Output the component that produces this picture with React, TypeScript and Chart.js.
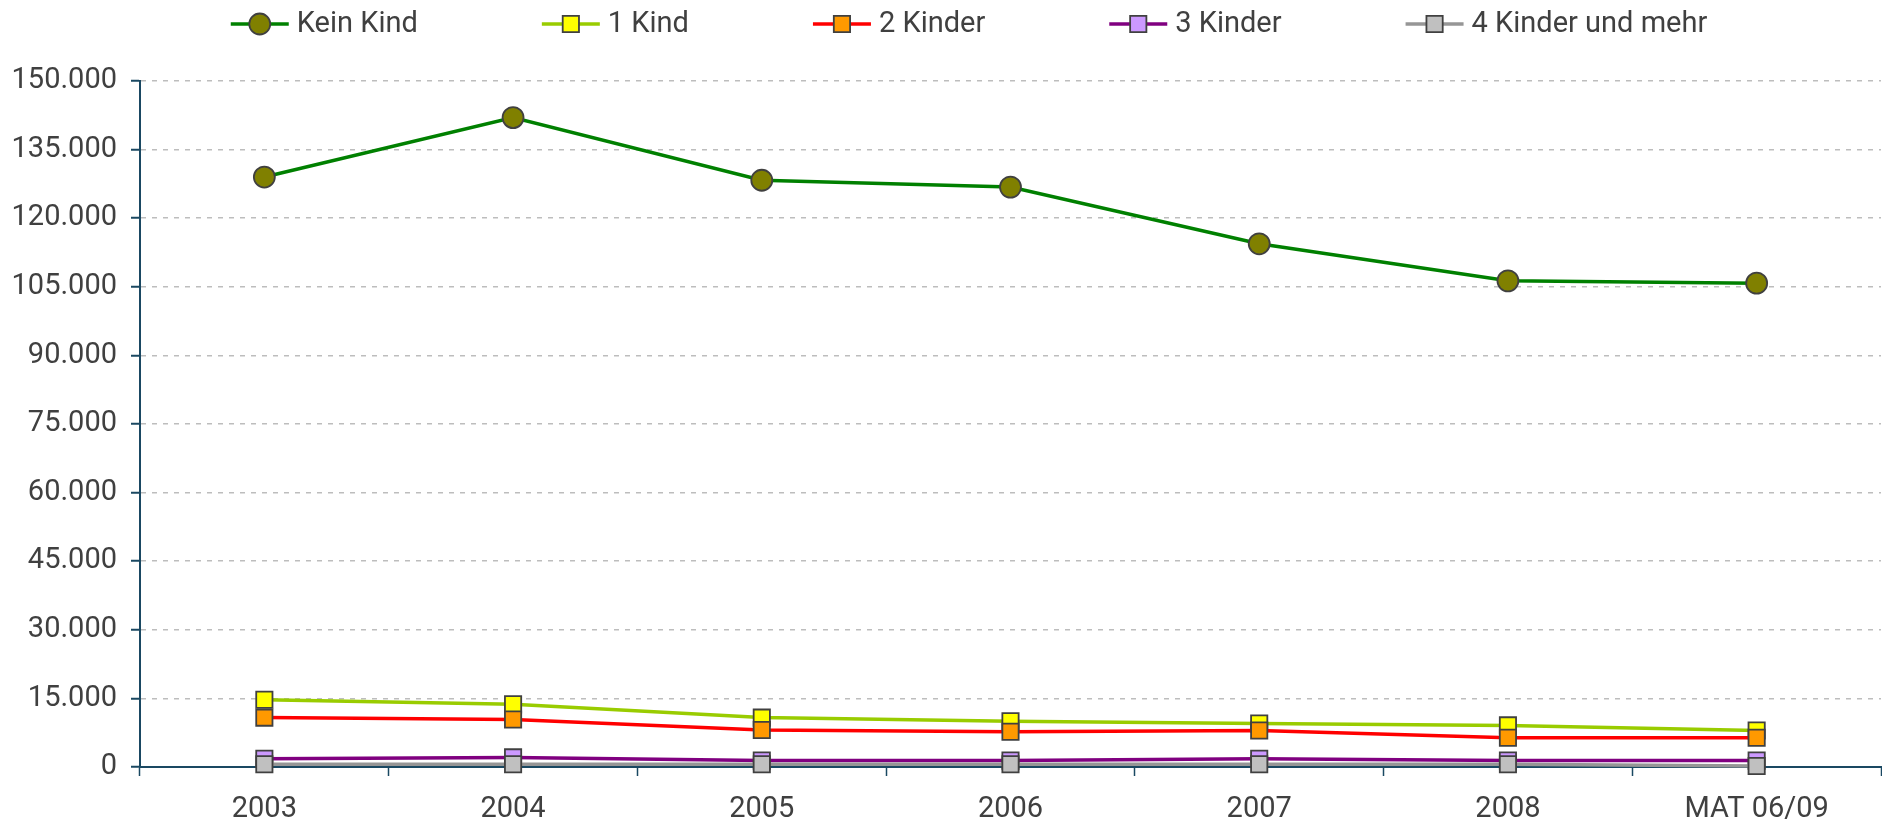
import React, { useEffect, useRef } from 'react';
import { Chart, registerables } from 'chart.js';

Chart.register(...registerables);

const categories = ['2003', '2004', '2005', '2006', '2007', '2008', 'MAT 06/09'];
const seriesNames = ['Kein Kind', '1 Kind', '2 Kinder', '3 Kinder', '4 Kinder und mehr'];
const keinKind = [129000, 142000, 128300, 126800, 114400, 106300, 105800];
const einKind = [14700, 13700, 10800, 10000, 9500, 9100, 8000];
const zweiKinder = [10800, 10400, 8100, 7700, 8000, 6400, 6400];
const dreiKinder = [1800, 2100, 1400, 1400, 1800, 1400, 1400];
const vierKinder = [600, 600, 600, 600, 600, 600, 200];
const yMin = 0;
const yMax = 150000;
const yStep = 15000;

const lineColors = ['#008000', '#99CC00', '#FF0000', '#800080', '#969696'];
const markerColors = ['#808000', '#FFFF00', '#FF9900', '#CC99FF', '#C0C0C0'];
const markerStyles = ['circle', 'rect', 'rect', 'rect', 'rect'];

const FONT = 'Roboto, "Open Sans", sans-serif';
const FONT_SIZE = 29;
const TEXT = '#404040';
const AXIS = '#1A4862';
const MARKER_BORDER = '#404040';

const fmt = (v: number) => String(v).replace(/\B(?=(\d{3})+(?!\d))/g, '.');

const legendPlugin = {
  id: 'lineMarkerLegend',
  afterDraw(chart: any) {
    const ctx = chart.ctx as CanvasRenderingContext2D;
    const ds = chart.data.datasets;
    ctx.save();
    ctx.font = `${FONT_SIZE}px ${FONT}`;
    const lineW = 58;
    const gapText = 8;
    const gapItem = 124;
    const widths = ds.map((d: any) => lineW + gapText + ctx.measureText(d.label).width);
    const total = widths.reduce((a: number, b: number) => a + b, 0) + gapItem * (ds.length - 1);
    let x = 969 - total / 2;
    const y = 24;
    ds.forEach((d: any, i: number) => {
      ctx.strokeStyle = d.borderColor;
      ctx.lineWidth = 3.5;
      ctx.beginPath();
      ctx.moveTo(x, y);
      ctx.lineTo(x + lineW, y);
      ctx.stroke();
      const cx = x + lineW / 2;
      ctx.fillStyle = d.pointBackgroundColor;
      ctx.strokeStyle = d.pointBorderColor;
      ctx.lineWidth = d.pointBorderWidth;
      ctx.beginPath();
      if (d.pointStyle === 'circle') {
        ctx.arc(cx, y, d.pointRadius, 0, Math.PI * 2);
      } else {
        const s = d.pointRadius * Math.SQRT1_2;
        ctx.rect(cx - s, y - s, 2 * s, 2 * s);
      }
      ctx.fill();
      ctx.stroke();
      ctx.fillStyle = TEXT;
      ctx.textBaseline = 'middle';
      ctx.textAlign = 'left';
      ctx.fillText(d.label, x + lineW + gapText, y + 1);
      x += widths[i] + gapItem;
    });
    ctx.restore();
  },
};

export default function App() {
  const ref = useRef<HTMLCanvasElement>(null);

  useEffect(() => {
    document.body.style.margin = '0';
    const canvas = ref.current;
    if (!canvas) return;
    const values = [keinKind, einKind, zweiKinder, dreiKinder, vierKinder];
    const chart = new Chart(canvas, {
      type: 'line',
      data: {
        labels: categories,
        datasets: seriesNames.map((name, i) => ({
          label: name,
          data: values[i],
          borderColor: lineColors[i],
          backgroundColor: markerColors[i],
          borderWidth: 3.5,
          tension: 0,
          pointStyle: markerStyles[i] as any,
          pointRadius: i === 0 ? 10.5 : 11.5,
          pointHoverRadius: i === 0 ? 10.5 : 11.5,
          pointBackgroundColor: markerColors[i],
          pointBorderColor: MARKER_BORDER,
          pointBorderWidth: 1.8,
          fill: false,
          clip: false as any,
          order: seriesNames.length - 1 - i,
        })),
      },
      options: {
        responsive: false,
        animation: false,
        devicePixelRatio: 1,
        layout: { autoPadding: false, padding: { top: 81, right: 1, bottom: 0, left: 0 } },
        plugins: {
          legend: { display: false },
          tooltip: { enabled: false },
        },
        scales: {
          x: {
            type: 'category',
            offset: true,
            grid: {
              offset: true,
              drawOnChartArea: false,
              drawTicks: true,
              tickLength: 9,
              tickColor: AXIS,
              tickWidth: 1.5,
            },
            border: { display: true, color: AXIS, width: 2 },
            ticks: {
              color: TEXT,
              font: { family: FONT, size: FONT_SIZE },
              padding: 16,
              maxRotation: 0,
              autoSkip: false,
            },
            afterFit: (scale: any) => {
              scale.height = 58;
              scale.paddingLeft = 0;
              scale.paddingRight = 0;
            },
          },
          y: {
            type: 'linear',
            min: yMin,
            max: yMax,
            grid: {
              color: (c: any) => (c.tick && c.tick.value === 0 ? 'rgba(0,0,0,0)' : '#BDBDBD'),
              lineWidth: 1.5,
              drawTicks: true,
              tickLength: 9,
              tickColor: AXIS,
              tickWidth: 2,
              tickBorderDash: [],
            },
            border: { display: true, color: AXIS, width: 2, dash: [5, 6] },
            ticks: {
              stepSize: yStep,
              color: TEXT,
              font: { family: FONT, size: FONT_SIZE },
              padding: 14,
              callback: (v: any) => fmt(Number(v)),
            },
            afterFit: (scale: any) => {
              scale.width = 140;
            },
          },
        },
      },
      plugins: [legendPlugin],
    });
    return () => chart.destroy();
  }, []);

  return (
    <div style={{ width: 1882, height: 825, position: 'relative', background: '#FFFFFF' }}>
      <canvas ref={ref} width={1882} height={825} style={{ display: 'block' }} />
    </div>
  );
}
